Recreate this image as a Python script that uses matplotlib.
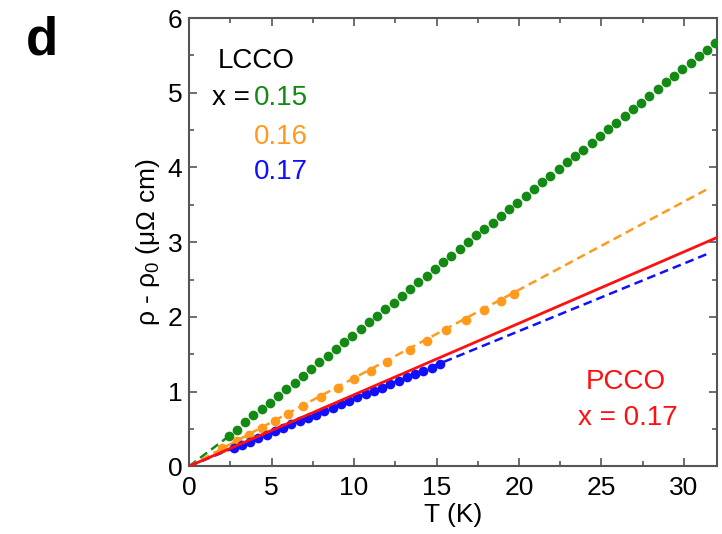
import numpy as np
import matplotlib
matplotlib.use("Agg")
import matplotlib.pyplot as plt
from matplotlib.ticker import MultipleLocator

plt.rcParams['font.family'] = ['Liberation Sans', 'DejaVu Sans']
plt.rcParams['mathtext.fontset'] = 'custom'
plt.rcParams['mathtext.rm'] = 'Liberation Sans'
plt.rcParams['mathtext.it'] = 'Liberation Sans:italic'

# --- data ---
T_015 = [2.4, 2.9, 3.4, 3.9, 4.4, 4.9, 5.4, 5.9, 6.4, 6.9, 7.4, 7.9, 8.4, 8.9, 9.4,
         9.9, 10.4, 10.9, 11.4, 11.9, 12.4, 12.9, 13.4, 13.9, 14.4, 14.9, 15.4, 15.9,
         16.4, 16.9, 17.4, 17.9, 18.4, 18.9, 19.4, 19.9, 20.4, 20.9, 21.4, 21.9, 22.4,
         22.9, 23.4, 23.9, 24.4, 24.9, 25.4, 25.9, 26.4, 26.9, 27.4, 27.9, 28.4, 28.9,
         29.4, 29.9, 30.4, 30.9, 31.4, 31.9]
rho_015 = [0.40, 0.49, 0.59, 0.68, 0.77, 0.85, 0.94, 1.03, 1.12, 1.21, 1.30, 1.39, 1.48,
           1.57, 1.66, 1.75, 1.84, 1.93, 2.01, 2.10, 2.19, 2.28, 2.37, 2.46, 2.55, 2.64,
           2.73, 2.82, 2.91, 3.00, 3.09, 3.17, 3.26, 3.35, 3.44, 3.53, 3.62, 3.71, 3.80,
           3.89, 3.98, 4.07, 4.16, 4.24, 4.33, 4.42, 4.51, 4.60, 4.69, 4.78, 4.87, 4.96,
           5.05, 5.14, 5.23, 5.32, 5.40, 5.49, 5.58, 5.67]

T_016 = [2.0, 2.9, 3.6, 4.4, 5.2, 6.0, 6.9, 8.0, 9.0, 10.0, 11.0, 12.0, 13.4, 14.4,
         15.6, 16.8, 17.9, 18.9, 19.7]
rho_016 = [0.25, 0.34, 0.42, 0.51, 0.60, 0.70, 0.80, 0.93, 1.05, 1.17, 1.28, 1.40, 1.56,
           1.68, 1.82, 1.96, 2.09, 2.21, 2.31]

T_017 = [2.7, 3.2, 3.7, 4.2, 4.7, 5.2, 5.7, 6.2, 6.7, 7.2, 7.7, 8.2, 8.7, 9.2, 9.7,
         10.2, 10.7, 11.2, 11.7, 12.2, 12.7, 13.2, 13.7, 14.2, 14.7, 15.2]
rho_017 = [0.24, 0.29, 0.33, 0.38, 0.42, 0.47, 0.51, 0.56, 0.60, 0.65, 0.69, 0.74, 0.78,
           0.83, 0.87, 0.92, 0.96, 1.01, 1.05, 1.10, 1.14, 1.19, 1.23, 1.28, 1.32, 1.37]

# linear fits through origin: (T, rho) end points
fit_015 = ([0, 2.4], [0, 0.40])
fit_016 = ([0, 31.5], [0, 3.72])
fit_017 = ([0, 31.5], [0, 2.85])
pcco_017 = ([0, 32.5], [0, 3.11])

GREEN = '#138a13'
ORANGE = '#ff9a1c'
BLUE = '#1010ff'
RED = '#ff1010'

fig = plt.figure(figsize=(7.22, 5.34), dpi=100)
ax = fig.add_axes([0.262, 0.127, 0.731, 0.839])

ax.plot(*fit_015, color=GREEN, lw=1.8, dashes=(3.5, 2))
ax.plot(*fit_016, color=ORANGE, lw=1.8, dashes=(3.5, 2))
ax.plot(*fit_017, color=BLUE, lw=1.8, dashes=(3.5, 2))
ax.plot(*pcco_017, '-', color=RED, lw=2.0, zorder=4)

ax.plot(T_015, rho_015, 'o', color=GREEN, ms=7, mec='none', zorder=3)
ax.plot(T_016, rho_016, 'o', color=ORANGE, ms=7, mec='none', zorder=3)
ax.plot(T_017, rho_017, 'o', color=BLUE, ms=7, mec='none', zorder=3)

ax.set_xlim(0, 32)
ax.set_ylim(0, 6)
ax.xaxis.set_major_locator(MultipleLocator(5))
ax.xaxis.set_minor_locator(MultipleLocator(2.5))
ax.yaxis.set_major_locator(MultipleLocator(1))
ax.yaxis.set_minor_locator(MultipleLocator(0.5))
ax.tick_params(which='both', direction='in', top=True, right=True,
               color='#555555', labelsize=19, width=1.2)
ax.tick_params(which='major', length=6)
ax.tick_params(which='minor', length=3.5)
ax.tick_params(axis='x', which='major', pad=7)
ax.tick_params(axis='y', which='major', pad=5)
for s in ax.spines.values():
    s.set_color('#555555')
    s.set_linewidth(1.5)

ax.set_xlabel('T (K)', fontsize=19, labelpad=2)
ax.set_ylabel(r'ρ - ρ$_0$ (μΩ cm)', fontsize=19, labelpad=4)

ax.text(4.07, 5.43, 'LCCO', fontsize=20, ha='center', va='center')
ax.text(3.7, 4.93, 'x =', fontsize=20, ha='right', va='center')
ax.text(3.95, 4.93, '0.15', fontsize=20, ha='left', va='center', color=GREEN)
ax.text(3.95, 4.41, '0.16', fontsize=20, ha='left', va='center', color=ORANGE)
ax.text(3.95, 3.94, '0.17', fontsize=20, ha='left', va='center', color=BLUE)
ax.text(26.5, 1.13, 'PCCO', fontsize=20, ha='center', va='center', color=RED)
ax.text(26.6, 0.64, 'x = 0.17', fontsize=20, ha='center', va='center', color=RED)

fig.text(0.058, 0.925, 'd', fontsize=38, fontweight='bold', ha='center', va='center')

fig.savefig('out.png', dpi=100)
